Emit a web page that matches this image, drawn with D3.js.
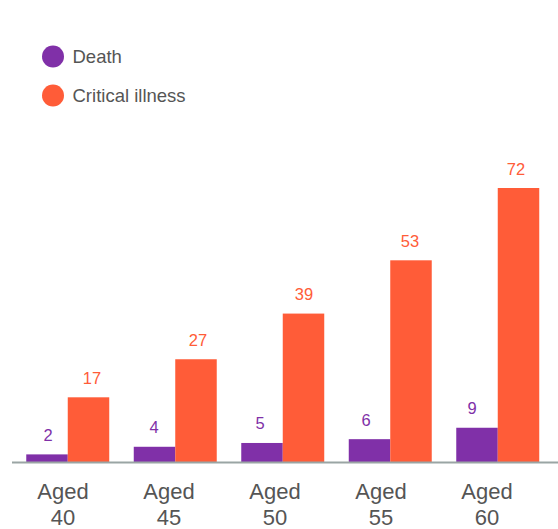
<!DOCTYPE html>
<meta charset="utf-8">
<html>
<head>
<script src="https://d3js.org/d3.v7.min.js"></script>
<style>
  body { margin: 0; background: #fff; font-family: "Liberation Sans", Arial, sans-serif; }
</style>
</head>
<body>
<script>
// chart data
var ages = ["Aged 40", "Aged 45", "Aged 50", "Aged 55", "Aged 60"];
var seriesNames = ["Death", "Critical illness"];
var death = [2, 4, 5, 6, 9];
var critical = [17, 27, 39, 53, 72];

var width = 558, height = 529;
var colors = ["#8030a8", "#ff5c38"];
var baseline = 462;

var svg = d3.select("body").append("svg")
  .attr("width", width)
  .attr("height", height);

// scales
var x = d3.scaleBand()
  .domain(ages)
  .range([14, 551.5])
  .paddingInner(0.228)
  .paddingOuter(0.114);

var xInner = d3.scaleBand()
  .domain(seriesNames)
  .range([0, x.bandwidth()]);

// labels sit on a slightly tighter grid than the bars
var xLab = d3.scaleBand()
  .domain(ages)
  .range([10, 540]);
var labOffset = [-15, 29];

var y = d3.scaleLinear()
  .domain([0, 72])
  .range([baseline, 188]);

var rows = ages.map(function(a, i) {
  return { age: a, values: [death[i], critical[i]] };
});

function pairs(d) {
  return d.values.map(function(v, j) { return { age: d.age, name: seriesNames[j], v: v, j: j }; });
}

var groups = svg.selectAll("g.grp")
  .data(rows)
  .enter().append("g")
  .attr("class", "grp");

groups.selectAll("rect")
  .data(pairs)
  .enter().append("rect")
  .attr("x", function(d) { return x(d.age) + xInner(d.name); })
  .attr("width", xInner.bandwidth())
  .attr("y", function(d) { return y(d.v); })
  .attr("height", function(d) { return baseline - y(d.v); })
  .style("fill", function(d) { return colors[d.j]; });

// value labels
groups.selectAll("text.val")
  .data(pairs)
  .enter().append("text")
  .attr("class", "val")
  .attr("x", function(d) { return xLab(d.age) + xLab.bandwidth() / 2 + labOffset[d.j]; })
  .attr("y", function(d) { return y(d.v) - 13.5; })
  .attr("text-anchor", "middle")
  .style("font-size", "16.5px")
  .style("fill", function(d) { return colors[d.j]; })
  .text(function(d) { return d.v; });

// axis line
svg.append("line")
  .attr("x1", 12).attr("x2", width)
  .attr("y1", baseline + 0.5).attr("y2", baseline + 0.5)
  .style("stroke", "#9aa5a4")
  .style("stroke-width", 2);

// category labels on two lines
var cat = svg.selectAll("text.cat")
  .data(ages)
  .enter().append("text")
  .attr("class", "cat")
  .attr("x", function(d) { return xLab(d) + xLab.bandwidth() / 2; })
  .attr("y", 499)
  .attr("text-anchor", "middle")
  .style("font-size", "22px")
  .style("fill", "#555");

cat.selectAll("tspan")
  .data(function(d) { return d.split(" "); })
  .enter().append("tspan")
  .attr("x", function() { return d3.select(this.parentNode).attr("x"); })
  .attr("dy", function(d, i) { return i ? 26 : 0; })
  .text(function(d) { return d; });

// legend
var legend = svg.selectAll("g.legend")
  .data(seriesNames)
  .enter().append("g")
  .attr("class", "legend")
  .attr("transform", function(d, i) { return "translate(53," + (56.5 + i * 39) + ")"; });

legend.append("circle")
  .attr("r", 11)
  .style("fill", function(d, i) { return colors[i]; });

legend.append("text")
  .attr("x", 19.5)
  .attr("y", 6)
  .style("font-size", "18.5px")
  .style("fill", "#555")
  .text(function(d) { return d; });
</script>
</body>
</html>
